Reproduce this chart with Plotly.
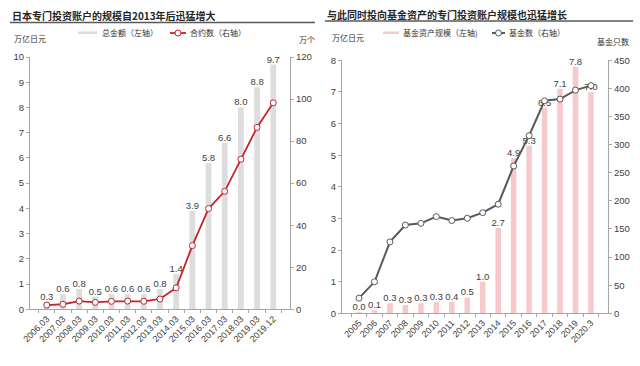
import plotly.graph_objects as go

# ---------------- data ----------------
left_categories = ["2006.03", "2007.03", "2008.03", "2009.03", "2010.03", "2011.03",
                   "2012.03", "2013.03", "2014.03", "2015.03", "2016.03", "2017.03",
                   "2018.03", "2019.03", "2019.12"]
left_total_amount = [0.3, 0.6, 0.8, 0.5, 0.6, 0.6, 0.6, 0.8, 1.4, 3.9, 5.8, 6.6, 8.0, 8.8, 9.7]
left_contracts = [2.0, 2.4, 3.9, 3.3, 3.8, 3.9, 3.8, 4.9, 10.2, 30.3, 47.9, 56.1, 71.4, 86.5, 98.2]

right_categories = ["2005", "2006", "2007", "2008", "2009", "2010", "2011", "2012",
                    "2013", "2014", "2015", "2016", "2017", "2018", "2019", "2020.3"]
right_fund_assets = [0.02, 0.1, 0.32, 0.26, 0.32, 0.35, 0.36, 0.5, 1.0, 2.7, 4.9, 5.3, 6.5, 7.1, 7.8, 7.0]
right_fund_count = [27, 56, 127, 157, 160, 172, 165, 169, 179, 194, 262, 316, 378, 381, 397, 405]

left_title = "日本专门投资账户的规模自2013年后迅猛增大"
right_title = "与此同时投向基金资产的专门投资账户规模也迅猛增长"

W, H = 640, 366
def px(x):
    return x / W
def py(y):
    return 1 - y / H

NUM_FONT = "Liberation Sans, Arial, Noto Sans CJK SC"
CJK_FONT = "Noto Sans CJK SC, Liberation Sans"
TXT = "#404040"
AX = "#a6a6a6"
RED = "#c0272d"
DGRAY = "#595959"
BAR_GRAY = "#dddddd"
PINK = "#f6c9cb"

fig = go.Figure()

bar_text = dict(texttemplate="%{y:.1f}", textposition="outside", cliponaxis=False,
                constraintext="none", textfont=dict(family=NUM_FONT, size=9.5, color=TXT))

fig.add_trace(go.Bar(x=left_categories, y=left_total_amount, xaxis="x", yaxis="y",
                     marker=dict(color=BAR_GRAY, line=dict(width=0)),
                     name="总金额（左轴）", showlegend=False, **bar_text))
fig.add_trace(go.Scatter(x=left_categories, y=left_contracts, xaxis="x", yaxis="y2",
                         mode="lines+markers", line=dict(color=RED, width=1.8),
                         marker=dict(size=6, color="white", line=dict(color=RED, width=1)),
                         cliponaxis=False, name="合约数（右轴）", showlegend=False))

fig.add_trace(go.Bar(x=right_categories, y=right_fund_assets, xaxis="x2", yaxis="y3",
                     marker=dict(color=PINK, line=dict(width=0)),
                     name="基金资产规模（左轴)", showlegend=False, **bar_text))
fig.add_trace(go.Scatter(x=right_categories, y=right_fund_count, xaxis="x2", yaxis="y4",
                         mode="lines+markers", line=dict(color=DGRAY, width=2),
                         marker=dict(size=6, color="white", line=dict(color=DGRAY, width=1)),
                         cliponaxis=False, name="基金数（右轴）", showlegend=False))

tickfont = dict(family=NUM_FONT, size=9.5, color=TXT)
common_y = dict(showgrid=False, zeroline=False, showline=True, linecolor=AX, linewidth=1,
                ticks="outside", ticklen=3, tickcolor=AX, tickfont=tickfont, automargin=False)
common_x = dict(type="category", showgrid=False, zeroline=False, showline=True, linecolor=AX,
                linewidth=1, ticks="outside", ticklen=3, tickcolor=AX, tickson="boundaries",
                tickangle=-45, tickfont=dict(family=NUM_FONT, size=9, color=TXT), automargin=False)

fig.update_layout(
    width=W, height=H, margin=dict(l=0, r=0, t=0, b=0, pad=0),
    paper_bgcolor="white", plot_bgcolor="white",
    bargap=0.64, showlegend=False,
    xaxis=dict(domain=[px(30), px(290)], anchor="y", **common_x),
    yaxis=dict(domain=[py(309.3), py(57)], range=[0, 10], dtick=1, anchor="x", **common_y),
    yaxis2=dict(range=[0, 120], dtick=20, overlaying="y", side="right", anchor="x", **common_y),
    xaxis2=dict(domain=[px(342), px(608)], anchor="y3", **common_x),
    yaxis3=dict(domain=[py(313.3), py(60.3)], range=[0, 8], dtick=1, anchor="x2", **common_y),
    yaxis4=dict(range=[0, 450], dtick=50, overlaying="y3", side="right", anchor="x2", **common_y),
)

ann = []
def text(x, y, s, size=8, xanchor="left", font=CJK_FONT, weight="normal", color="#333333"):
    ann.append(dict(x=px(x), y=py(y), xref="paper", yref="paper", text=s, showarrow=False,
                    xanchor=xanchor, yanchor="middle",
                    font=dict(family=font, size=size, color=color, weight=weight)))

# titles
text(10, 15, left_title, size=10, weight="bold", color="#262626")
text(325, 14, right_title, size=10, weight="bold", color="#262626")
# units
text(12, 38, "万亿日元", size=8)
text(297, 39, "万个", size=8)
text(330, 37, "万亿日元", size=8)
text(595, 41, "基金只数", size=8)
# legends
text(100, 33, "总金额（左轴）", size=8)
text(188, 33, "合约数（右轴）", size=8)
text(401, 33, "基金资产规模（左轴)", size=8)
text(507, 33, "基金数（右轴）", size=8)
fig.update_layout(annotations=ann)

shapes = [
    dict(type="line", xref="paper", yref="paper", x0=px(10), x1=px(315), y0=py(22.5), y1=py(22.5),
         line=dict(color="#595959", width=1.5)),
    dict(type="line", xref="paper", yref="paper", x0=px(325), x1=px(633), y0=py(21), y1=py(21),
         line=dict(color="#595959", width=1.5)),
    # legend swatches
    dict(type="rect", xref="paper", yref="paper", x0=px(78), x1=px(97), y0=py(34), y1=py(31.5),
         fillcolor=BAR_GRAY, line=dict(width=0)),
    dict(type="line", xref="paper", yref="paper", x0=px(170), x1=px(186), y0=py(33), y1=py(33),
         line=dict(color=RED, width=1.8)),
    dict(type="circle", xref="paper", yref="paper", x0=px(175), x1=px(181), y0=py(36), y1=py(30),
         fillcolor="white", line=dict(color=RED, width=1)),
    dict(type="rect", xref="paper", yref="paper", x0=px(383), x1=px(399), y0=py(34), y1=py(31.5),
         fillcolor=PINK, line=dict(width=0)),
    dict(type="line", xref="paper", yref="paper", x0=px(492), x1=px(505), y0=py(33), y1=py(33),
         line=dict(color=DGRAY, width=2)),
    dict(type="circle", xref="paper", yref="paper", x0=px(495.5), x1=px(501.5), y0=py(36), y1=py(30),
         fillcolor="white", line=dict(color=DGRAY, width=1)),
]
fig.update_layout(shapes=shapes)

fig.write_html("out.html", config={"displayModeBar": False},
               post_script="document.body.style.margin='0';")
